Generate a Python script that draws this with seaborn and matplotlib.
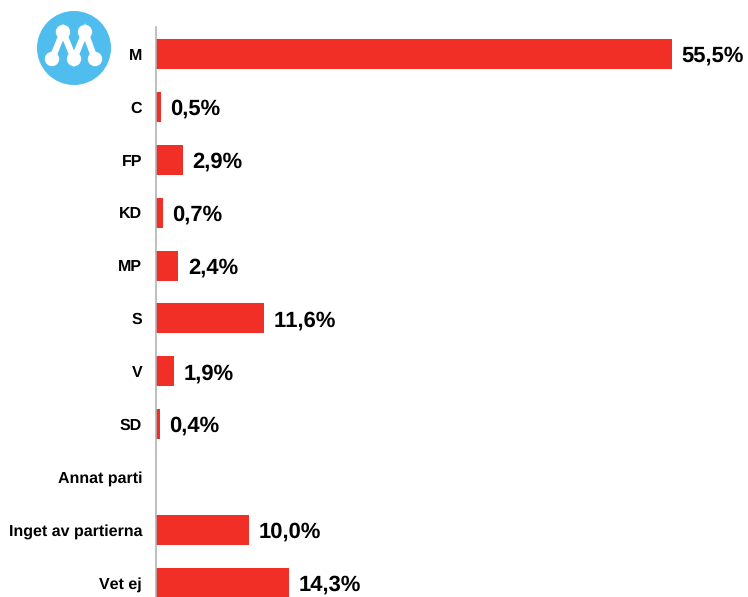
import numpy as np
import pandas as pd
import matplotlib
matplotlib.use("Agg")
import matplotlib.pyplot as plt
from matplotlib.patches import Circle
import seaborn as sns

parties = ["M", "C", "FP", "KD", "MP", "S", "V", "SD", "Annat parti", "Inget av partierna", "Vet ej"]
shares = [55.5, 0.5, 2.9, 0.7, 2.4, 11.6, 1.9, 0.4, np.nan, 10.0, 14.3]
value_labels = ["55,5%", "0,5%", "2,9%", "0,7%", "2,4%", "11,6%", "1,9%", "0,4%", "", "10,0%", "14,3%"]

W, H = 748, 597
sns.set_theme(style="white")
plt.rcParams["font.family"] = ["Liberation Sans", "DejaVu Sans"]
plt.rcParams["text.hinting"] = "no_hinting"
plt.rcParams["text.hinting_factor"] = 1
plt.rcParams["text.kerning_factor"] = 6

fig = plt.figure(figsize=(W / 100, H / 100), dpi=100, facecolor="white")
left, right, top, bottom = 156, 748, 27, 597
ax = fig.add_axes([left / W, 1 - bottom / H, (right - left) / W, (bottom - top) / H])

df = pd.DataFrame({"party": parties, "share": shares})
sns.barplot(data=df, y="party", x="share", order=parties, color="#F22F27",
            saturation=1, width=30 / 52.85, linewidth=0, ax=ax)

ax.set_xlim(0, (right - left) / 9.3)
ax.set_ylim((bottom - 54.1) / 52.85, (top - 54.1) / 52.85)
ax.set_xlabel("")
ax.set_ylabel("")
ax.xaxis.set_visible(False)
ax.tick_params(axis="y", length=0, pad=10)
for lab in ax.get_yticklabels():
    lab.set_fontsize(11.5)
    lab.set_fontweight("bold")
    lab.set_color("black")
for s in ["top", "right", "bottom"]:
    ax.spines[s].set_visible(False)
ax.spines["left"].set_color("#B3B3B3")
ax.spines["left"].set_linewidth(1.2)

for i, (v, t) in enumerate(zip(shares, value_labels)):
    if t:
        ax.annotate(t, xy=(v, i), xytext=(6.8, 0), textcoords="offset points",
                    ha="left", va="center_baseline", fontsize=15.8,
                    fontweight="bold", color="black", clip_on=False)

# Party logo, drawn in pixel coordinates of the figure
logo = fig.add_axes([0, 0, 1, 1], facecolor="none")
logo.set_xlim(0, W)
logo.set_ylim(H, 0)
logo.axis("off")
logo.add_patch(Circle((74, 48), 37, color="#4FBDEE", lw=0))
nodes = [(52, 59), (63, 32), (74, 59), (85, 32), (95, 59)]
logo.plot([n[0] for n in nodes], [n[1] for n in nodes], color="white", lw=4.6, solid_joinstyle="miter")
for n in nodes:
    logo.add_patch(Circle(n, 7.2, color="white", lw=0))

fig.savefig("out.png", dpi=100, facecolor="white")
